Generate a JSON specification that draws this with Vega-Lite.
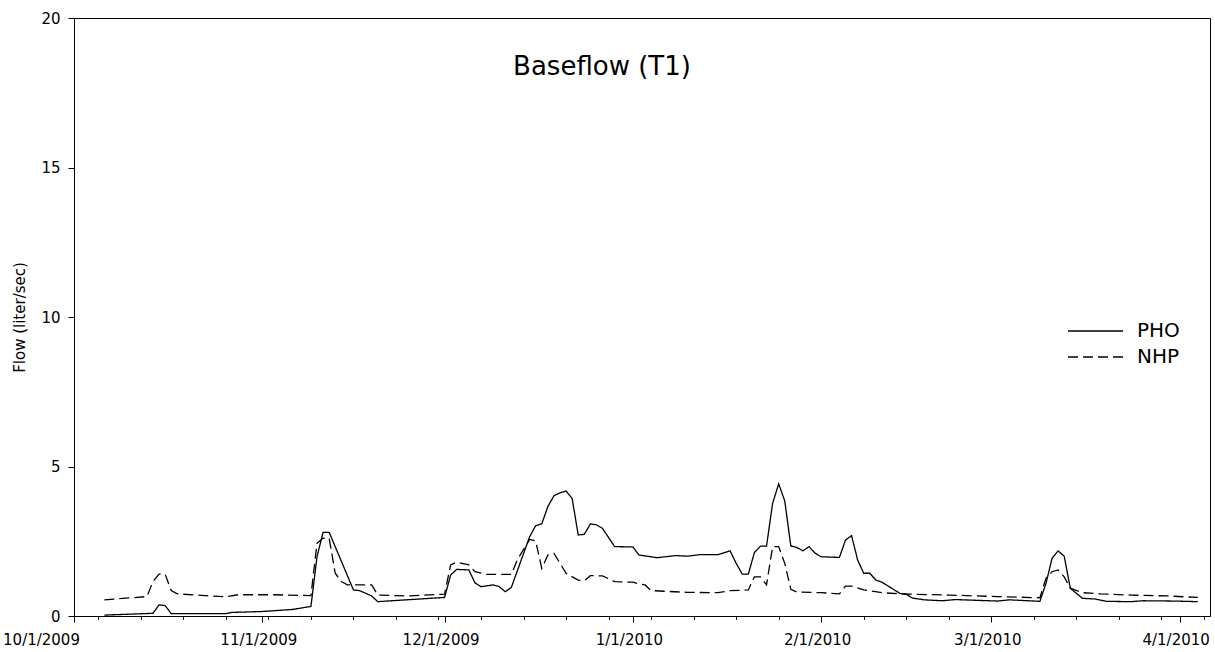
{
  "$schema": "https://vega.github.io/schema/vega-lite/v6.json",
  "autosize": {"type": "none"},
  "padding": {"left": 74, "top": 18, "right": 5, "bottom": 36},
  "width": 1136,
  "height": 598,
  "background": "white",
  "title": {"text": "Baseflow (T1)", "anchor": "middle", "dx": -40, "baseline": "alphabetic", "offset": 0, "dy": 90, "fontSize": 26, "font": "DejaVu Sans", "fontWeight": "normal", "color": "black"},
  "config": {
    "view": {"stroke": "black", "strokeWidth": 1},
    "axis": {"domainColor": "black", "tickColor": "black", "labelColor": "black", "titleColor": "black", "labelFont": "DejaVu Sans", "titleFont": "DejaVu Sans", "grid": false, "titleFontWeight": "normal"},
    "legend": {"labelFont": "DejaVu Sans", "labelColor": "black"}
  },
  "data": {"values": [
    {"d": "2009/10/06", "s": "PHO", "v": 0.03},
    {"d": "2009/10/14", "s": "PHO", "v": 0.09},
    {"d": "2009/10/15", "s": "PHO", "v": 0.37},
    {"d": "2009/10/16", "s": "PHO", "v": 0.35},
    {"d": "2009/10/17", "s": "PHO", "v": 0.08},
    {"d": "2009/10/26", "s": "PHO", "v": 0.08},
    {"d": "2009/10/27", "s": "PHO", "v": 0.12},
    {"d": "2009/11/01", "s": "PHO", "v": 0.15},
    {"d": "2009/11/06", "s": "PHO", "v": 0.22},
    {"d": "2009/11/09", "s": "PHO", "v": 0.32},
    {"d": "2009/11/10", "s": "PHO", "v": 1.98},
    {"d": "2009/11/11", "s": "PHO", "v": 2.8},
    {"d": "2009/11/12", "s": "PHO", "v": 2.8},
    {"d": "2009/11/16", "s": "PHO", "v": 0.87},
    {"d": "2009/11/17", "s": "PHO", "v": 0.85},
    {"d": "2009/11/19", "s": "PHO", "v": 0.67},
    {"d": "2009/11/20", "s": "PHO", "v": 0.48},
    {"d": "2009/12/01", "s": "PHO", "v": 0.62},
    {"d": "2009/12/02", "s": "PHO", "v": 1.37},
    {"d": "2009/12/03", "s": "PHO", "v": 1.56},
    {"d": "2009/12/05", "s": "PHO", "v": 1.54},
    {"d": "2009/12/06", "s": "PHO", "v": 1.11},
    {"d": "2009/12/07", "s": "PHO", "v": 0.98},
    {"d": "2009/12/09", "s": "PHO", "v": 1.04},
    {"d": "2009/12/10", "s": "PHO", "v": 0.98},
    {"d": "2009/12/11", "s": "PHO", "v": 0.81},
    {"d": "2009/12/12", "s": "PHO", "v": 0.96},
    {"d": "2009/12/15", "s": "PHO", "v": 2.65},
    {"d": "2009/12/16", "s": "PHO", "v": 3.02},
    {"d": "2009/12/17", "s": "PHO", "v": 3.08},
    {"d": "2009/12/18", "s": "PHO", "v": 3.66},
    {"d": "2009/12/19", "s": "PHO", "v": 4.02},
    {"d": "2009/12/20", "s": "PHO", "v": 4.12},
    {"d": "2009/12/21", "s": "PHO", "v": 4.18},
    {"d": "2009/12/22", "s": "PHO", "v": 3.93},
    {"d": "2009/12/23", "s": "PHO", "v": 2.71},
    {"d": "2009/12/24", "s": "PHO", "v": 2.73},
    {"d": "2009/12/25", "s": "PHO", "v": 3.08},
    {"d": "2009/12/26", "s": "PHO", "v": 3.05},
    {"d": "2009/12/27", "s": "PHO", "v": 2.93},
    {"d": "2009/12/29", "s": "PHO", "v": 2.32},
    {"d": "2010/01/01", "s": "PHO", "v": 2.31},
    {"d": "2010/01/02", "s": "PHO", "v": 2.04},
    {"d": "2010/01/05", "s": "PHO", "v": 1.95},
    {"d": "2010/01/08", "s": "PHO", "v": 2.02},
    {"d": "2010/01/10", "s": "PHO", "v": 2.0},
    {"d": "2010/01/12", "s": "PHO", "v": 2.05},
    {"d": "2010/01/15", "s": "PHO", "v": 2.05},
    {"d": "2010/01/17", "s": "PHO", "v": 2.18},
    {"d": "2010/01/18", "s": "PHO", "v": 1.76},
    {"d": "2010/01/19", "s": "PHO", "v": 1.4},
    {"d": "2010/01/20", "s": "PHO", "v": 1.4},
    {"d": "2010/01/21", "s": "PHO", "v": 2.12},
    {"d": "2010/01/22", "s": "PHO", "v": 2.34},
    {"d": "2010/01/23", "s": "PHO", "v": 2.34},
    {"d": "2010/01/24", "s": "PHO", "v": 3.77},
    {"d": "2010/01/25", "s": "PHO", "v": 4.42},
    {"d": "2010/01/26", "s": "PHO", "v": 3.85},
    {"d": "2010/01/27", "s": "PHO", "v": 2.34},
    {"d": "2010/01/28", "s": "PHO", "v": 2.29},
    {"d": "2010/01/29", "s": "PHO", "v": 2.18},
    {"d": "2010/01/30", "s": "PHO", "v": 2.32},
    {"d": "2010/01/31", "s": "PHO", "v": 2.1},
    {"d": "2010/02/01", "s": "PHO", "v": 1.98},
    {"d": "2010/02/04", "s": "PHO", "v": 1.96},
    {"d": "2010/02/05", "s": "PHO", "v": 2.54},
    {"d": "2010/02/06", "s": "PHO", "v": 2.69},
    {"d": "2010/02/07", "s": "PHO", "v": 1.87},
    {"d": "2010/02/08", "s": "PHO", "v": 1.43},
    {"d": "2010/02/09", "s": "PHO", "v": 1.43},
    {"d": "2010/02/10", "s": "PHO", "v": 1.2},
    {"d": "2010/02/11", "s": "PHO", "v": 1.13},
    {"d": "2010/02/14", "s": "PHO", "v": 0.75},
    {"d": "2010/02/15", "s": "PHO", "v": 0.73},
    {"d": "2010/02/16", "s": "PHO", "v": 0.6},
    {"d": "2010/02/18", "s": "PHO", "v": 0.54},
    {"d": "2010/02/21", "s": "PHO", "v": 0.51},
    {"d": "2010/02/23", "s": "PHO", "v": 0.55},
    {"d": "2010/03/02", "s": "PHO", "v": 0.5},
    {"d": "2010/03/04", "s": "PHO", "v": 0.54},
    {"d": "2010/03/09", "s": "PHO", "v": 0.49},
    {"d": "2010/03/10", "s": "PHO", "v": 1.09},
    {"d": "2010/03/11", "s": "PHO", "v": 1.93},
    {"d": "2010/03/12", "s": "PHO", "v": 2.18},
    {"d": "2010/03/13", "s": "PHO", "v": 2.0},
    {"d": "2010/03/14", "s": "PHO", "v": 0.93},
    {"d": "2010/03/16", "s": "PHO", "v": 0.59},
    {"d": "2010/03/18", "s": "PHO", "v": 0.57},
    {"d": "2010/03/20", "s": "PHO", "v": 0.49},
    {"d": "2010/03/24", "s": "PHO", "v": 0.48},
    {"d": "2010/03/26", "s": "PHO", "v": 0.51},
    {"d": "2010/03/31", "s": "PHO", "v": 0.5},
    {"d": "2010/04/04", "s": "PHO", "v": 0.48},
    {"d": "2009/10/06", "s": "NHP", "v": 0.54},
    {"d": "2009/10/13", "s": "NHP", "v": 0.65},
    {"d": "2009/10/14", "s": "NHP", "v": 1.15},
    {"d": "2009/10/15", "s": "NHP", "v": 1.4},
    {"d": "2009/10/16", "s": "NHP", "v": 1.4},
    {"d": "2009/10/17", "s": "NHP", "v": 0.85},
    {"d": "2009/10/18", "s": "NHP", "v": 0.74},
    {"d": "2009/10/22", "s": "NHP", "v": 0.69},
    {"d": "2009/10/26", "s": "NHP", "v": 0.64},
    {"d": "2009/10/28", "s": "NHP", "v": 0.71},
    {"d": "2009/11/03", "s": "NHP", "v": 0.71},
    {"d": "2009/11/09", "s": "NHP", "v": 0.68},
    {"d": "2009/11/10", "s": "NHP", "v": 2.43},
    {"d": "2009/11/11", "s": "NHP", "v": 2.6},
    {"d": "2009/11/12", "s": "NHP", "v": 2.6},
    {"d": "2009/11/13", "s": "NHP", "v": 1.43},
    {"d": "2009/11/14", "s": "NHP", "v": 1.15},
    {"d": "2009/11/15", "s": "NHP", "v": 1.04},
    {"d": "2009/11/19", "s": "NHP", "v": 1.04},
    {"d": "2009/11/20", "s": "NHP", "v": 0.7},
    {"d": "2009/11/25", "s": "NHP", "v": 0.67},
    {"d": "2009/12/01", "s": "NHP", "v": 0.73},
    {"d": "2009/12/02", "s": "NHP", "v": 1.71},
    {"d": "2009/12/03", "s": "NHP", "v": 1.8},
    {"d": "2009/12/05", "s": "NHP", "v": 1.71},
    {"d": "2009/12/06", "s": "NHP", "v": 1.48},
    {"d": "2009/12/08", "s": "NHP", "v": 1.39},
    {"d": "2009/12/12", "s": "NHP", "v": 1.39},
    {"d": "2009/12/13", "s": "NHP", "v": 1.89},
    {"d": "2009/12/15", "s": "NHP", "v": 2.56},
    {"d": "2009/12/16", "s": "NHP", "v": 2.51},
    {"d": "2009/12/17", "s": "NHP", "v": 1.59},
    {"d": "2009/12/18", "s": "NHP", "v": 2.04},
    {"d": "2009/12/19", "s": "NHP", "v": 2.1},
    {"d": "2009/12/21", "s": "NHP", "v": 1.43},
    {"d": "2009/12/23", "s": "NHP", "v": 1.2},
    {"d": "2009/12/24", "s": "NHP", "v": 1.18},
    {"d": "2009/12/25", "s": "NHP", "v": 1.35},
    {"d": "2009/12/27", "s": "NHP", "v": 1.34},
    {"d": "2009/12/29", "s": "NHP", "v": 1.15},
    {"d": "2010/01/01", "s": "NHP", "v": 1.13},
    {"d": "2010/01/02", "s": "NHP", "v": 1.07},
    {"d": "2010/01/03", "s": "NHP", "v": 1.04},
    {"d": "2010/01/04", "s": "NHP", "v": 0.85},
    {"d": "2010/01/10", "s": "NHP", "v": 0.79},
    {"d": "2010/01/15", "s": "NHP", "v": 0.78},
    {"d": "2010/01/17", "s": "NHP", "v": 0.85},
    {"d": "2010/01/20", "s": "NHP", "v": 0.87},
    {"d": "2010/01/21", "s": "NHP", "v": 1.31},
    {"d": "2010/01/22", "s": "NHP", "v": 1.31},
    {"d": "2010/01/23", "s": "NHP", "v": 1.04},
    {"d": "2010/01/24", "s": "NHP", "v": 2.32},
    {"d": "2010/01/25", "s": "NHP", "v": 2.32},
    {"d": "2010/01/26", "s": "NHP", "v": 1.76},
    {"d": "2010/01/27", "s": "NHP", "v": 0.89},
    {"d": "2010/01/28", "s": "NHP", "v": 0.8},
    {"d": "2010/02/01", "s": "NHP", "v": 0.78},
    {"d": "2010/02/04", "s": "NHP", "v": 0.74},
    {"d": "2010/02/05", "s": "NHP", "v": 1.0},
    {"d": "2010/02/06", "s": "NHP", "v": 1.0},
    {"d": "2010/02/08", "s": "NHP", "v": 0.87},
    {"d": "2010/02/11", "s": "NHP", "v": 0.78},
    {"d": "2010/02/14", "s": "NHP", "v": 0.74},
    {"d": "2010/02/22", "s": "NHP", "v": 0.7},
    {"d": "2010/03/02", "s": "NHP", "v": 0.65},
    {"d": "2010/03/09", "s": "NHP", "v": 0.61},
    {"d": "2010/03/10", "s": "NHP", "v": 1.26},
    {"d": "2010/03/11", "s": "NHP", "v": 1.48},
    {"d": "2010/03/12", "s": "NHP", "v": 1.54},
    {"d": "2010/03/13", "s": "NHP", "v": 1.31},
    {"d": "2010/03/14", "s": "NHP", "v": 0.93},
    {"d": "2010/03/16", "s": "NHP", "v": 0.78},
    {"d": "2010/03/19", "s": "NHP", "v": 0.74},
    {"d": "2010/03/24", "s": "NHP", "v": 0.7},
    {"d": "2010/03/30", "s": "NHP", "v": 0.67},
    {"d": "2010/04/04", "s": "NHP", "v": 0.62}
  ]},
  "mark": {"type": "line", "color": "black", "strokeWidth": 1.3},
  "encoding": {
    "x": {
      "field": "d", "type": "temporal",
      "scale": {"domain": [{"year": 2009, "month": 10, "date": 1}, {"year": 2010, "month": 4, "date": 6}], "nice": false},
      "axis": {
        "title": null,
        "values": [
          {"year": 2009, "month": 10, "date": 1}, {"year": 2009, "month": 10, "date": 5}, {"year": 2009, "month": 10, "date": 12}, {"year": 2009, "month": 10, "date": 19}, {"year": 2009, "month": 10, "date": 26},
          {"year": 2009, "month": 11, "date": 1}, {"year": 2009, "month": 11, "date": 2}, {"year": 2009, "month": 11, "date": 9}, {"year": 2009, "month": 11, "date": 16}, {"year": 2009, "month": 11, "date": 23}, {"year": 2009, "month": 11, "date": 30},
          {"year": 2009, "month": 12, "date": 1}, {"year": 2009, "month": 12, "date": 7}, {"year": 2009, "month": 12, "date": 14}, {"year": 2009, "month": 12, "date": 21}, {"year": 2009, "month": 12, "date": 28},
          {"year": 2010, "month": 1, "date": 1}, {"year": 2010, "month": 1, "date": 4}, {"year": 2010, "month": 1, "date": 11}, {"year": 2010, "month": 1, "date": 18}, {"year": 2010, "month": 1, "date": 25},
          {"year": 2010, "month": 2, "date": 1}, {"year": 2010, "month": 2, "date": 8}, {"year": 2010, "month": 2, "date": 15}, {"year": 2010, "month": 2, "date": 22},
          {"year": 2010, "month": 3, "date": 1}, {"year": 2010, "month": 3, "date": 8}, {"year": 2010, "month": 3, "date": 15}, {"year": 2010, "month": 3, "date": 22}, {"year": 2010, "month": 3, "date": 29},
          {"year": 2010, "month": 4, "date": 1}, {"year": 2010, "month": 4, "date": 5}
        ],
        "labelExpr": "date(datum.value) == 1 ? timeFormat(datum.value, '%-m/%-d/%Y') : ''",
        "labelOverlap": false,
        "labelFlush": false,
        "labelFontSize": 15,
        "labelPadding": 10,
        "labelOffset": {"condition": {"test": "month(datum.value) == 9 && date(datum.value) == 1", "value": -33}, "value": -4},
        "tickSize": {"condition": {"test": "date(datum.value) == 1", "value": 6}, "value": 3.5},
        "domainColor": "black"
      }
    },
    "y": {
      "field": "v", "type": "quantitative",
      "scale": {"domain": [0, 20], "nice": false},
      "axis": {"title": "Flow (liter/sec)", "values": [0, 5, 10, 15, 20], "tickSize": 6, "labelPadding": 8, "labelFontSize": 15, "titleFontSize": 15, "titlePadding": 13}
    },
    "strokeDash": {
      "field": "s", "type": "nominal",
      "scale": {"domain": ["PHO", "NHP"], "range": [[1, 0], [10, 5]]},
      "legend": {"title": null, "orient": "none", "legendX": 993, "legendY": 301, "symbolType": "stroke", "symbolSize": 3025, "symbolStrokeWidth": 1.3, "symbolStrokeColor": "black", "labelFontSize": 20, "labelOffset": 13, "clipHeight": 24, "rowPadding": 2, "padding": 0}
    }
  }
}
